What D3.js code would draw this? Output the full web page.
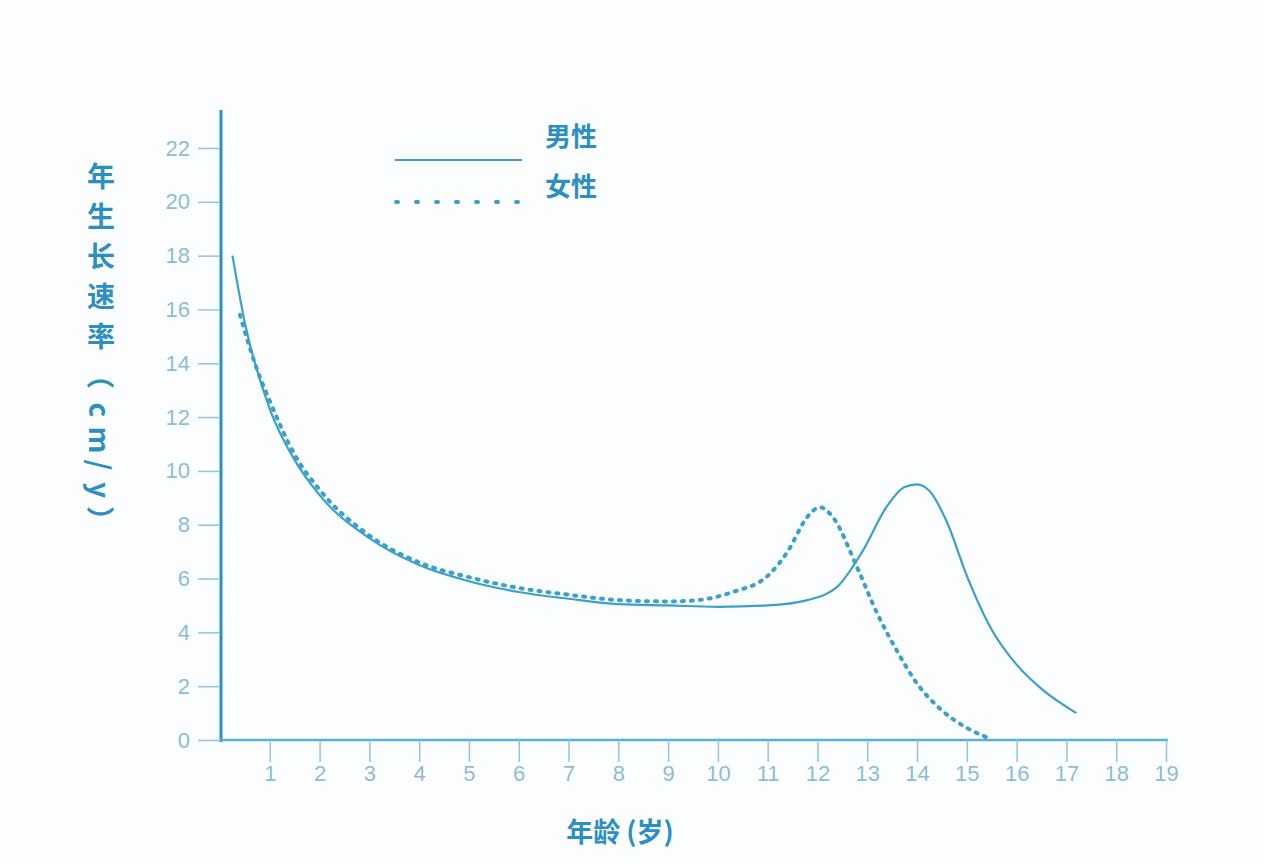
<!DOCTYPE html><html><head><meta charset="utf-8"><script src="https://cdn.jsdelivr.net/npm/d3@7"></script>
<style>body{margin:0;background:#fcfdfe}</style></head><body><svg id="c" width="1264" height="864"></svg><script>
const xTicks=[1,2,3,4,5,6,7,8,9,10,11,12,13,14,15,16,17,18,19];
const yTicks=[0,2,4,6,8,10,12,14,16,18,20,22];
const maleAge=[0.25,0.5,1,1.5,2,3,4,5,6,7,8,9,10,11,11.8,12.4,12.9,13.4,13.75,14.0,14.25,14.6,15,15.5,16,16.5,17.2];
const maleVal=[18,15.5,12.3,10.4,9.1,7.5,6.5,5.9,5.5,5.25,5.05,5.0,4.95,5.0,5.2,5.7,7.0,8.7,9.4,9.5,9.25,8.1,6.1,4.1,2.8,1.9,1.0];
const femaleAge=[0.4,0.7,1,1.5,2,3,4,5,6,7,8,9,9.6,10.3,11,11.4,11.8,12.05,12.3,12.8,13.2,13.6,14,14.5,15,15.4];
const femaleVal=[15.8,14,12.6,10.6,9.3,7.6,6.6,6.05,5.65,5.4,5.2,5.15,5.2,5.5,6.1,7.0,8.3,8.65,8.3,6.4,4.7,3.3,2.1,1.1,0.45,0.1];
const col="#3d9fca";
const svg=d3.select("#c");
const x=d3.scaleLinear().domain([0,19]).range([220,1166]);
const y=d3.scaleLinear().domain([0,22]).range([740,148]);
svg.append("line").attr("x1",221).attr("x2",221).attr("y1",110).attr("y2",742).attr("stroke","#2e8fc2").attr("stroke-width",3);
svg.append("line").attr("x1",220).attr("x2",1168).attr("y1",740).attr("y2",740).attr("stroke","#5aaed2").attr("stroke-width",2.5);
const ya=svg.append("g").attr("transform","translate(220,0)").call(d3.axisLeft(y).tickValues(yTicks).tickSize(22).tickPadding(8));
const xa=svg.append("g").attr("transform","translate(0,740)").call(d3.axisBottom(x).tickValues(xTicks).tickSize(22).tickPadding(8));
[ya,xa].forEach(a=>{a.select(".domain").remove();a.selectAll("line").attr("stroke","#8cc6e0").attr("stroke-width",1.5);
a.selectAll("text").attr("fill","#8cbdd6").attr("font-family","Liberation Sans, Arial").attr("font-size",22);});
xa.selectAll("text").attr("dy","0.5em");
const line=d3.line().x(d=>x(d[0])).y(d=>y(d[1])).curve(d3.curveMonotoneX);
svg.append("path").datum(maleAge.map((a,i)=>[a,maleVal[i]])).attr("d",line).attr("fill","none").attr("stroke",col).attr("stroke-width",2.2);
svg.append("path").datum(femaleAge.map((a,i)=>[a,femaleVal[i]])).attr("d",line).attr("fill","none").attr("stroke",col).attr("stroke-width",4).attr("stroke-dasharray","2 7").attr("stroke-linecap","round");
svg.append("line").attr("x1",395).attr("x2",522).attr("y1",160).attr("y2",160).attr("stroke",col).attr("stroke-width",2.2);
svg.append("line").attr("x1",396).attr("x2",522).attr("y1",202).attr("y2",202).attr("stroke",col).attr("stroke-width",4).attr("stroke-dasharray","2 18").attr("stroke-linecap","round");
const tf="Noto Sans CJK SC";
svg.append("text").attr("x",545).attr("y",146).text("男性").attr("fill","#2d8fc0").attr("font-family",tf).attr("font-weight","bold").attr("font-size",26);
svg.append("text").attr("x",545).attr("y",196).text("女性").attr("fill","#2d8fc0").attr("font-family",tf).attr("font-weight","bold").attr("font-size",26);
const yl=["年","生","长","速","率","（","c","m","/","y","）"];
const ys=[175,215,255,295,335,375,410,440,465,490,520];
yl.forEach((c,i)=>svg.append("text").attr("x",101).attr("y",ys[i]).attr("text-anchor","middle").attr("dominant-baseline","central").attr("fill","#2d8fc0").attr("font-family",tf).attr("font-weight","bold").attr("font-size",28).attr("transform",/[cmy/（）]/.test(c)?`rotate(90,101,${ys[i]})`:null).text(c));
svg.append("text").attr("x",620).attr("y",842).attr("text-anchor","middle").text("年龄 (岁)").attr("fill","#2d8fc0").attr("font-family",tf).attr("font-weight","bold").attr("font-size",27);
</script></body></html>
